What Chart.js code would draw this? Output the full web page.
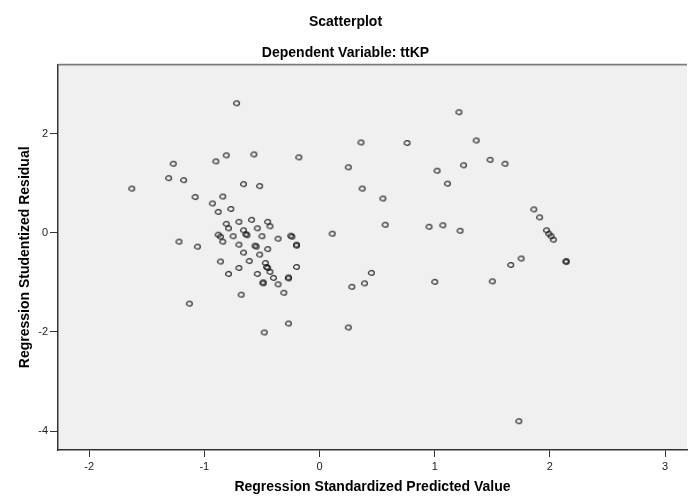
<!DOCTYPE html>
<html>
<head>
<meta charset="utf-8">
<script src="https://cdn.jsdelivr.net/npm/chart.js@4/dist/chart.umd.min.js"></script>
<style>
html,body{margin:0;padding:0;background:#fff;}
#wrap{width:691px;height:497px;}
</style>
</head>
<body>
<div id="wrap"><canvas id="c" width="691" height="497"></canvas></div>
<script>
// Regression Standardized Predicted Value (x)
const predictedValues = [
  -0.72,-1.27,-0.90,-0.81,-0.57,-1.31,-1.18,-1.63,-0.66,-0.52,
  -1.08,-0.84,-0.93,-0.88,-0.77,-0.81,-0.70,-0.59,-0.45,-0.43,
  -0.79,-0.66,-0.54,-0.88,-0.86,-0.84,-0.75,-0.64,-0.63,-0.50,
  -1.22,-1.06,-0.70,-0.56,-0.55,-0.66,-0.52,-0.45,-0.36,-0.25,
  -0.24,-0.20,-0.20,-0.86,-0.61,-0.47,-0.46,-0.45,-0.43,-0.70,
  -0.79,-0.54,-0.20,-0.40,-0.27,-0.27,-0.49,-0.49,-0.36,-0.31,
  -0.68,-1.13,-0.48,-0.27,0.25,0.28,0.39,0.45,0.11,1.21,
  0.36,0.76,1.36,-0.18,0.25,1.02,1.25,0.37,1.11,0.55,
  0.57,0.95,1.07,1.22,1.00,1.48,1.61,1.86,1.91,1.97,
  1.99,2.01,2.03,2.14,2.14,1.75,1.66,1.50,1.73
];
// Regression Studentized Residual (y)
const residualValues = [
  2.61,1.39,1.44,1.56,1.58,1.10,1.06,0.89,0.98,0.94,
  0.72,0.73,0.59,0.42,0.48,0.18,0.22,0.26,0.22,0.13,
  0.09,0.05,0.09,-0.04,-0.08,-0.18,-0.07,-0.03,-0.05,-0.07,
  -0.18,-0.28,-0.24,-0.26,-0.28,-0.40,-0.44,-0.33,-0.12,-0.06,
  -0.08,-0.24,-0.26,-0.58,-0.57,-0.61,-0.69,-0.71,-0.79,-0.71,
  -0.83,-0.83,-0.69,-0.91,-0.90,-0.92,-1.00,-1.02,-1.04,-1.21,
  -1.25,-1.43,-2.01,-1.83,-1.91,-1.09,-1.02,-0.81,-0.02,2.43,
  1.82,1.81,1.86,1.52,1.32,1.25,1.36,0.89,0.99,0.69,
  0.16,0.12,0.15,0.04,-0.99,1.47,1.39,0.47,0.31,0.05,
  -0.02,-0.07,-0.14,-0.57,-0.59,-0.52,-0.65,-0.98,-3.80
];
const xTickValues = [-2,-1,0,1,2,3];
const yTickValues = [-4,-2,0,2];

const FONT = "'Liberation Sans', Arial, Helvetica, sans-serif";

// open ellipse marker like SPSS
const marker = document.createElement('canvas');
marker.width = 9; marker.height = 8;
(function(){
  const g = marker.getContext('2d');
  g.strokeStyle = 'rgba(15,15,15,0.85)';
  g.lineWidth = 1.2;
  g.beginPath();
  g.ellipse(4.5, 4, 2.9, 2.3, 0, 0, Math.PI*2);
  g.stroke();
})();

const points = predictedValues.map((x, i) => ({x: x, y: residualValues[i]}));

const plotBg = {
  id: 'plotBg',
  beforeDraw(chart) {
    const {ctx, chartArea: a} = chart;
    ctx.save();
    ctx.fillStyle = '#f0f0f0';
    ctx.fillRect(a.left, a.top, a.right - a.left, a.bottom - a.top);
    ctx.restore();
  },
  afterDraw(chart) {
    const {ctx, chartArea: a} = chart;
    ctx.save();
    ctx.strokeStyle = '#7d7d7d';
    ctx.lineWidth = 1.6;
    ctx.beginPath();
    ctx.moveTo(a.left, a.top);
    ctx.lineTo(a.right, a.top);
    ctx.stroke();
    ctx.restore();
  }
};

new Chart(document.getElementById('c'), {
  type: 'scatter',
  data: {
    datasets: [{
      data: points,
      pointStyle: marker,
      pointRadius: 3,
      pointHoverRadius: 3
    }]
  },
  plugins: [plotBg],
  options: {
    responsive: false,
    animation: false,
    devicePixelRatio: 1,
    layout: { padding: 0 },
    plugins: {
      legend: { display: false },
      tooltip: { enabled: false },
      title: {
        display: true,
        text: 'Scatterplot',
        color: '#000',
        font: { family: FONT, size: 14, weight: 'bold' },
        padding: { top: 14, bottom: 5 }
      },
      subtitle: {
        display: true,
        text: 'Dependent Variable: ttKP',
        color: '#000',
        font: { family: FONT, size: 14, weight: 'bold' },
        padding: { top: 9, bottom: 3 }
      }
    },
    scales: {
      x: {
        type: 'linear',
        position: 'bottom',
        min: -2.27,
        max: 3.19,
        afterBuildTicks: (axis) => { axis.ticks = xTickValues.map(v => ({value: v})); },
        afterFit: (axis) => { axis.height = 47; axis.paddingLeft = 0; axis.paddingRight = 0; },
        grid: { drawOnChartArea: false, drawTicks: true, tickLength: 7, color: '#333', lineWidth: 1 },
        border: { display: true, color: '#333', width: 1.5 },
        ticks: {
          color: '#222',
          font: { family: FONT, size: 11 },
          padding: 3,
          maxRotation: 0,
          callback: (v) => String(v)
        },
        title: {
          display: true,
          text: 'Regression Standardized Predicted Value',
          color: '#000',
          font: { family: FONT, size: 14, weight: 'bold' },
          padding: { top: 0, bottom: 1 }
        }
      },
      y: {
        type: 'linear',
        position: 'left',
        min: -4.38,
        max: 3.39,
        afterBuildTicks: (axis) => { axis.ticks = yTickValues.map(v => ({value: v})); },
        afterFit: (axis) => { axis.width = 58; },
        grid: { drawOnChartArea: false, drawTicks: true, tickLength: 8, color: '#333', lineWidth: 1 },
        border: { display: true, color: '#333', width: 1.5 },
        ticks: {
          color: '#222',
          font: { family: FONT, size: 11 },
          padding: 2,
          callback: (v) => String(v)
        },
        title: {
          display: true,
          text: 'Regression Studentized Residual',
          color: '#000',
          font: { family: FONT, size: 14, weight: 'bold' },
          padding: { top: 17, bottom: 0 }
        }
      }
    }
  }
});
</script>
</body>
</html>
